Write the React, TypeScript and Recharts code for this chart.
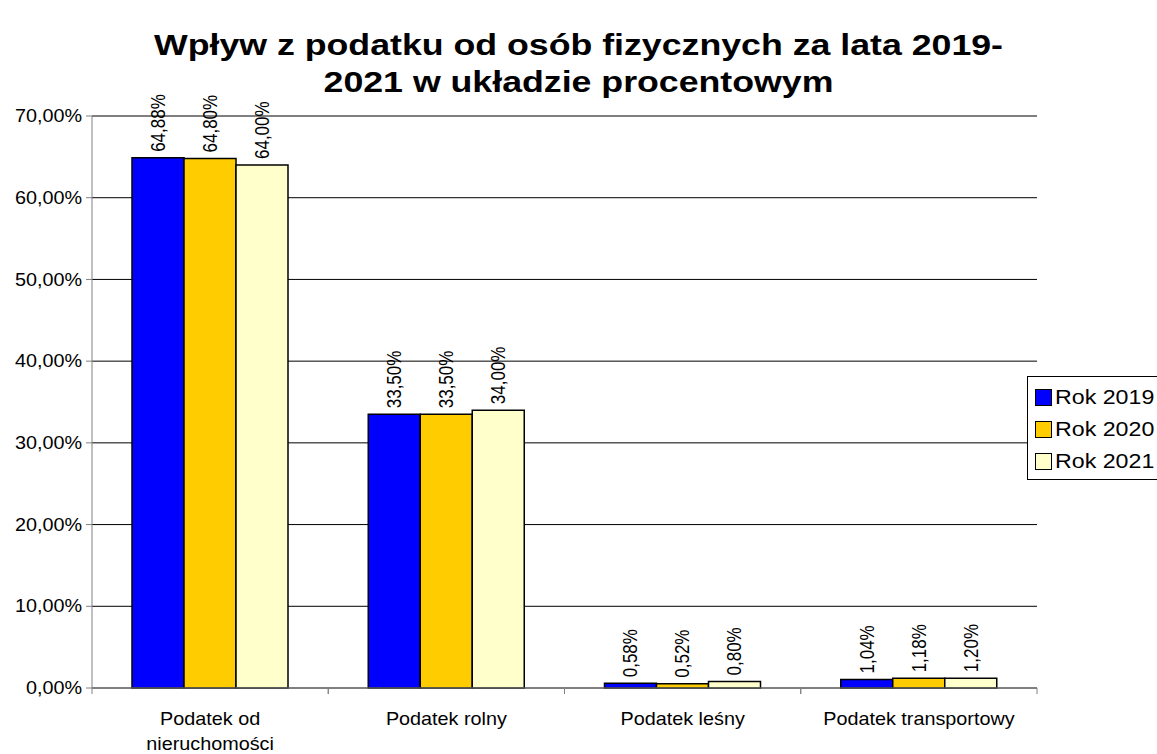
import { Bar, BarChart, CartesianGrid, LabelList, XAxis, YAxis } from 'recharts'

const categories = ['Podatek od\nnieruchomości', 'Podatek rolny', 'Podatek leśny', 'Podatek transportowy']
const rok2019 = [64.88, 33.5, 0.58, 1.04]
const rok2020 = [64.8, 33.5, 0.52, 1.18]
const rok2021 = [64.0, 34.0, 0.8, 1.2]
const yTicks = [0, 10, 20, 30, 40, 50, 60, 70]

const series = [
  { key: 'r2019', name: 'Rok 2019', fill: '#0000ff' },
  { key: 'r2020', name: 'Rok 2020', fill: '#ffcc00' },
  { key: 'r2021', name: 'Rok 2021', fill: '#ffffcc' },
]

const data = categories.map((c, i) => ({
  cat: c,
  r2019: rok2019[i],
  r2020: rok2020[i],
  r2021: rok2021[i],
}))

// the original picture is a bit stretched sideways
const SX = 1.16
const font = 'Arial, "Liberation Sans", sans-serif'
const pct = (v: number) => v.toFixed(2).replace('.', ',') + '%'

const CatTick = (props: any) => {
  const { x, y, payload } = props
  const lines = String(payload.value).split('\n')
  const off = payload.offset || 0
  return (
    <g>
      <line x1={x - off} x2={x - off} y1={y - 8} y2={y - 2} stroke="#808080" />
      <line x1={x + off} x2={x + off} y1={y - 8} y2={y - 2} stroke="#808080" />
      {lines.map((l, i) => (
        <text key={i} transform={`translate(${x},${y + 29 + i * 25}) scale(1.1,1)`} textAnchor="middle"
          fontSize={18} fill="#000" fontFamily={font}>{l}</text>
      ))}
    </g>
  )
}

const ValTick = (props: any) => {
  const { x, y, payload } = props
  return (
    <text transform={`translate(${x},${y}) scale(1.1,1)`} textAnchor="end" dominantBaseline="central"
      fontSize={18} fill="#000" fontFamily={font}>{pct(payload.value)}</text>
  )
}

const ValueLabel = (props: any) => {
  const { x, y, width, value } = props
  const cx = x + width / 2
  const ty = y - 6
  return (
    <text transform={`translate(${cx},${ty}) scale(${SX},1) rotate(-90)`} dominantBaseline="central"
      textAnchor="start" fontSize={17} fontFamily={font} fill="#000">
      {pct(value)}
    </text>
  )
}

export default function App() {
  return (
    <div style={{ position: 'relative', width: 1157, height: 754, background: '#fff', overflow: 'hidden' }}>
      <style>{'body{margin:0}'}</style>
      <div style={{ position: 'absolute', left: 0, top: 26, width: 1157, textAlign: 'center', fontFamily: font,
        fontWeight: 'bold', fontSize: 30, lineHeight: '37px', transform: 'scaleX(1.19)' }}>
        Wpływ z podatku od osób fizycznych za lata 2019-<br />2021 w układzie procentowym
      </div>
      <BarChart width={1157} height={754} data={data} margin={{ top: 116, right: 120, bottom: 6, left: 12 }}
        barCategoryGap={40} barGap={0}>
        <CartesianGrid vertical={false} stroke="#000" />
        <XAxis dataKey="cat" tick={<CatTick />} tickLine={false} height={60} interval={0}
          axisLine={{ stroke: '#808080' }} />
        <YAxis domain={[0, 70]} ticks={yTicks} width={80} tickSize={6} tickMargin={4}
          axisLine={{ stroke: '#808080' }} tickLine={{ stroke: '#808080' }} tick={<ValTick />} />
        {series.map((s) => (
          <Bar key={s.key} dataKey={s.key} name={s.name} fill={s.fill} stroke="#000" strokeWidth={1.5}
            isAnimationActive={false}>
            <LabelList dataKey={s.key} content={<ValueLabel />} />
          </Bar>
        ))}
      </BarChart>
      <div style={{ position: 'absolute', left: 1027, top: 376, width: 160, height: 104, border: '1px solid #000',
        background: '#fff', fontFamily: font, boxSizing: 'border-box', paddingTop: 4 }}>
        {series.map((s) => (
          <div key={s.key} style={{ display: 'flex', alignItems: 'center', height: 32, fontSize: 20 }}>
            <span style={{ display: 'inline-block', width: 15, height: 15, background: s.fill,
              border: '1px solid #000', marginLeft: 7, marginRight: 3, flex: 'none' }} />
            <span style={{ display: 'inline-block', transform: `scaleX(${SX})`, transformOrigin: 'left center' }}>
              {s.name}
            </span>
          </div>
        ))}
      </div>
    </div>
  )
}
